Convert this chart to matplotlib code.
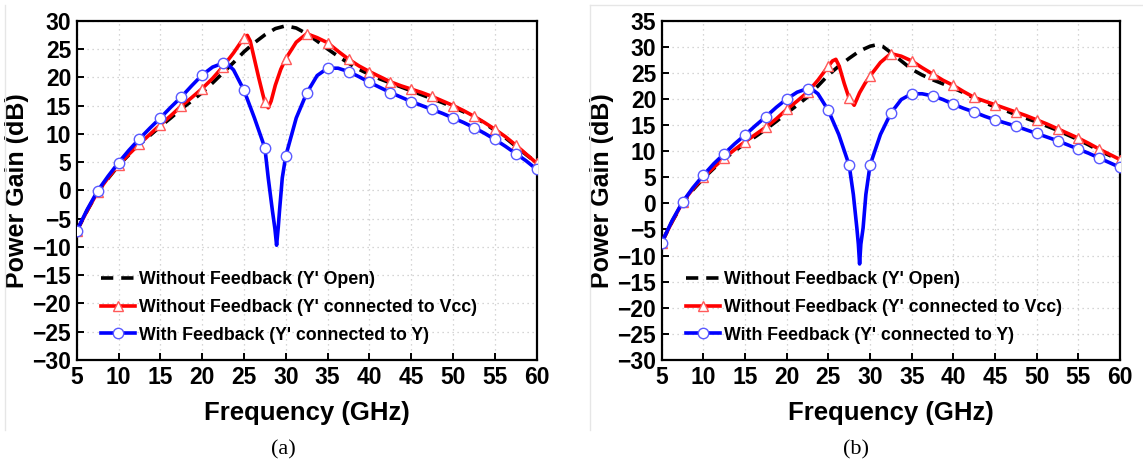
import numpy as np
import matplotlib
matplotlib.use("Agg")
from matplotlib import pyplot as plt
from matplotlib.lines import Line2D

# ---- panel (a) ----
a_open_x = [5, 6.25, 7.5, 8.75, 10, 11.25, 12.5, 13.75, 15, 16.25, 17.5, 18.75, 20, 21.25, 22.5,
            23.75, 25, 26.25, 27.5, 28.75, 30, 31.25, 32.5, 33.75, 35, 36.25, 37.5, 38.75, 40,
            41.25, 42.5, 43.75, 45, 46.25, 47.5, 48.75, 50, 51.25, 52.5, 53.75, 55, 56.25, 57.5, 58.75, 60]
a_open_y = [-7.2, -3.6, -0.3, 2.1, 4.4, 6.3, 8.1, 9.7, 11.3, 12.8, 14.4, 15.8, 17.3, 19.0, 20.8,
            22.6, 24.5, 26.1, 27.5, 28.6, 29.1, 28.7, 27.7, 26.4, 25.0, 23.7, 22.5, 21.4, 20.5,
            19.7, 19.0, 18.3, 17.6, 16.9, 16.2, 15.5, 14.7, 13.9, 13.0, 11.9, 10.6, 9.3, 7.8, 6.3, 4.9]

a_vcc_x = [5, 6.25, 7.5, 8.75, 10, 11.25, 12.5, 13.75, 15, 16.25, 17.5, 18.75, 20, 21.25, 22.5,
           23.75, 25, 25.4, 25.75, 26.25, 26.75, 27.25, 27.5, 27.9, 28.25, 28.75, 29.4, 30, 31.25,
           32.5, 33.75, 35, 36.25, 37.5, 38.75, 40, 41.25, 42.5, 43.75, 45, 46.25, 47.5, 48.75, 50,
           51.25, 52.5, 53.75, 55, 56.25, 57.5, 58.75, 60]
a_vcc_y = [-7.2, -3.6, -0.3, 2.2, 4.5, 6.4, 8.2, 9.9, 11.6, 13.2, 14.9, 16.4, 18.0, 19.8, 21.9,
           24.3, 27.0, 27.4, 26.4, 23.2, 20.0, 17.0, 15.6, 14.6, 15.8, 18.6, 21.4, 23.3, 26.2,
           27.7, 27.0, 26.1, 24.6, 23.2, 22.0, 21.0, 20.1, 19.2, 18.5, 17.9, 17.3, 16.6, 15.8, 15.0,
           14.1, 13.1, 12.0, 10.8, 9.5, 8.0, 6.4, 4.8]

a_fb_x = [5, 6.25, 7.5, 8.75, 10, 11.25, 12.5, 13.75, 15, 16.25, 17.5, 18.75, 20, 21.25, 22.5,
          23.0, 23.75, 25, 26.25, 27.5, 27.9, 28.4, 28.7, 28.9, 29.1, 29.25, 29.58, 30, 31.25,
          32.5, 33.75, 35, 36.25, 37.5, 38.75, 40, 41.25, 42.5, 43.75, 45, 46.25, 47.5, 48.75, 50,
          51.25, 52.5, 53.75, 55, 56.25, 57.5, 58.75, 60]
a_fb_y = [-7.2, -3.4, -0.1, 2.5, 4.9, 7.1, 9.1, 11.0, 12.8, 14.7, 16.5, 18.5, 20.4, 21.8, 22.5,
          22.4, 21.3, 17.7, 12.8, 7.5, 2.2, -3.6, -6.8, -9.7, -6.5, -3.6, 2.2, 6.1, 12.8,
          17.2, 20.3, 21.6, 21.6, 21.0, 20.1, 19.1, 18.2, 17.3, 16.5, 15.7, 15.0, 14.3, 13.6, 12.8,
          12.0, 11.1, 10.1, 9.0, 7.8, 6.5, 5.2, 3.7]

# ---- panel (b) ----
b_open_x = [5, 6.25, 7.5, 8.75, 10, 11.25, 12.5, 13.75, 15, 16.25, 17.5, 18.75, 20, 21.25, 22.5,
            23.75, 25, 26.25, 27.5, 28.75, 30, 30.8, 31.5, 32.5, 33.75, 35, 36.25, 37.5, 38.75, 40,
            41.25, 42.5, 43.75, 45, 46.25, 47.5, 48.75, 50, 51.25, 52.5, 53.75, 55, 56.25, 57.5, 58.75, 60]
b_open_y = [-7.5, -3.5, 0.0, 2.6, 4.8, 6.7, 8.5, 10.0, 11.5, 12.8, 14.2, 15.7, 17.3, 18.8, 20.4,
            22.5, 24.6, 26.3, 27.8, 29.2, 30.1, 30.4, 30.1, 28.9, 27.3, 25.7, 24.6, 23.7, 22.9, 22.1,
            21.2, 20.2, 19.3, 18.5, 17.8, 17.0, 16.3, 15.6, 14.8, 14.0, 13.1, 12.2, 11.2, 10.1, 9.2, 8.2]

b_vcc_x = [5, 6.25, 7.5, 8.75, 10, 11.25, 12.5, 13.75, 15, 16.25, 17.5, 18.75, 20, 21.25, 22.5,
           23.75, 25, 25.5, 25.9, 26.3, 26.9, 27.5, 28.1, 28.75, 29.4, 30, 31.25, 32.5, 33.75, 35,
           36.25, 37.5, 38.75, 40, 41.25, 42.5, 43.75, 45, 46.25, 47.5, 48.75, 50, 51.25, 52.5,
           53.75, 55, 56.25, 57.5, 58.75, 60]
b_vcc_y = [-7.5, -3.5, 0.2, 2.8, 5.0, 6.9, 8.7, 10.3, 11.8, 13.2, 14.6, 16.2, 18.0, 19.6, 21.3,
           23.6, 26.3, 27.3, 27.6, 26.3, 23.0, 20.1, 18.8, 21.2, 23.0, 24.4, 27.0, 28.7, 28.2, 27.3,
           26.0, 24.8, 23.6, 22.6, 21.4, 20.3, 19.6, 18.9, 18.2, 17.5, 16.8, 16.0, 15.2, 14.3,
           13.4, 12.5, 11.5, 10.4, 9.4, 8.4]

b_fb_x = [5, 6.25, 7.5, 8.75, 10, 11.25, 12.5, 13.75, 15, 16.25, 17.5, 18.75, 20, 21.25, 22.5,
          23.0, 23.75, 25, 26.25, 27.5, 28.0, 28.42, 28.6, 28.75, 28.9, 29.17, 29.5, 30, 31.25,
          32.5, 33.75, 35, 36.25, 37.5, 38.75, 40, 41.25, 42.5, 43.75, 45, 46.25, 47.5, 48.75, 50,
          51.25, 52.5, 53.75, 55, 56.25, 57.5, 58.75, 60]
b_fb_y = [-7.5, -3.3, 0.25, 3.0, 5.4, 7.6, 9.5, 11.4, 13.1, 14.9, 16.6, 18.4, 20.0, 21.3, 22.0,
          21.9, 21.0, 17.8, 13.2, 7.3, 1.7, -4.7, -7.8, -11.6, -7.8, -4.7, 1.7, 7.3, 13.2,
          17.3, 19.9, 21.0, 21.0, 20.6, 19.9, 19.0, 18.2, 17.5, 16.7, 16.0, 15.4, 14.8, 14.1, 13.4,
          12.7, 12.0, 11.2, 10.4, 9.6, 8.7, 7.8, 6.9]

x_ticks = [5, 10, 15, 20, 25, 30, 35, 40, 45, 50, 55, 60]
labels = ["Without Feedback (Y' Open)",
          "Without Feedback (Y' connected to Vcc)",
          "With Feedback (Y' connected to Y)"]

FONT = "Liberation Sans"
LW = 2.6
DASH = (0, (3.4, 2.2))


def marker_idx(xs):
    # markers every 2.5 GHz
    return [i for i, v in enumerate(xs) if abs(v / 2.5 - round(v / 2.5)) < 1e-6]


def draw_panel(ax, open_xy, vcc_xy, fb_xy, ylim, yticks):
    ax.plot(open_xy[0], open_xy[1], color="black", lw=LW, ls=DASH, zorder=3)
    ax.plot(vcc_xy[0], vcc_xy[1], color="#ff0000", lw=LW, marker="^", ms=7.5,
            mfc="white", mec="#ff5a5a", mew=1.0, markevery=marker_idx(vcc_xy[0]), zorder=4)
    ax.plot(fb_xy[0], fb_xy[1], color="#0000ff", lw=LW, marker="o", ms=7.5,
            mfc="white", mec="#5a5aff", mew=1.0, markevery=marker_idx(fb_xy[0]), zorder=5)

    ax.set_xlim(5, 60)
    ax.set_ylim(*ylim)
    ax.set_xticks(x_ticks)
    ax.set_yticks(yticks)
    ax.grid(True, ls=(0, (1, 3)), color="#c8c8c8", lw=0.9)
    ax.tick_params(direction="in", length=5, width=1.4, top=False, right=False, pad=4)
    for lab in ax.get_xticklabels() + ax.get_yticklabels():
        lab.set_fontfamily(FONT)
        lab.set_fontweight("bold")
        lab.set_fontsize(16.5)
    for sp in ax.spines.values():
        sp.set_linewidth(1.6)
    ax.set_xlabel("Frequency (GHz)", fontsize=18.5, fontweight="bold", family=FONT, labelpad=9)
    ax.set_ylabel("Power Gain (dB)", fontsize=18, fontweight="bold", family=FONT, labelpad=2)

    handles = [
        Line2D([], [], color="black", lw=LW, ls=DASH),
        Line2D([], [], color="#ff0000", lw=LW, marker="^", ms=7.5, mfc="white", mec="#ff5a5a"),
        Line2D([], [], color="#0000ff", lw=LW, marker="o", ms=7.5, mfc="white", mec="#5a5aff"),
    ]
    ax.legend(handles, labels, loc="lower left", bbox_to_anchor=(0.045, 0.038), frameon=False,
              prop={"family": FONT, "weight": "bold", "size": 12.8}, handlelength=1.9,
              handletextpad=0.25, labelspacing=0.6, borderpad=0.2, borderaxespad=0)


def main():
    fig = plt.figure(figsize=(11.43, 4.70), dpi=100)

    ax1 = fig.add_axes([76.7 / 1143, 1 - 360 / 470, 460 / 1143, 339.3 / 470])
    draw_panel(ax1, (a_open_x, a_open_y), (a_vcc_x, a_vcc_y), (a_fb_x, a_fb_y),
               (-30, 30), list(range(-30, 31, 5)))

    ax2 = fig.add_axes([661.7 / 1143, 1 - 360 / 470, 458.3 / 1143, 339.3 / 470])
    draw_panel(ax2, (b_open_x, b_open_y), (b_vcc_x, b_vcc_y), (b_fb_x, b_fb_y),
               (-30, 35), list(range(-30, 36, 5)))

    # faint frame lines from the source figure
    fig.add_artist(Line2D([5 / 1143, 5 / 1143], [1 - 5 / 470, 1 - 430 / 470], color="#e6e6e6", lw=1))
    fig.add_artist(Line2D([590 / 1143, 590 / 1143], [1 - 5 / 470, 1 - 430 / 470], color="#e6e6e6", lw=1))
    fig.add_artist(Line2D([590 / 1143, 1.0], [1 - 5 / 470, 1 - 5 / 470], color="#e6e6e6", lw=1))

    fig.text(283 / 1143, 1 - 450 / 470, "(a)", ha="center", va="center",
             family="Liberation Serif", fontsize=16)
    fig.text(856 / 1143, 1 - 450 / 470, "(b)", ha="center", va="center",
             family="Liberation Serif", fontsize=16)

    fig.savefig("out.png", dpi=100)


if __name__ == '__main__':
    main()
